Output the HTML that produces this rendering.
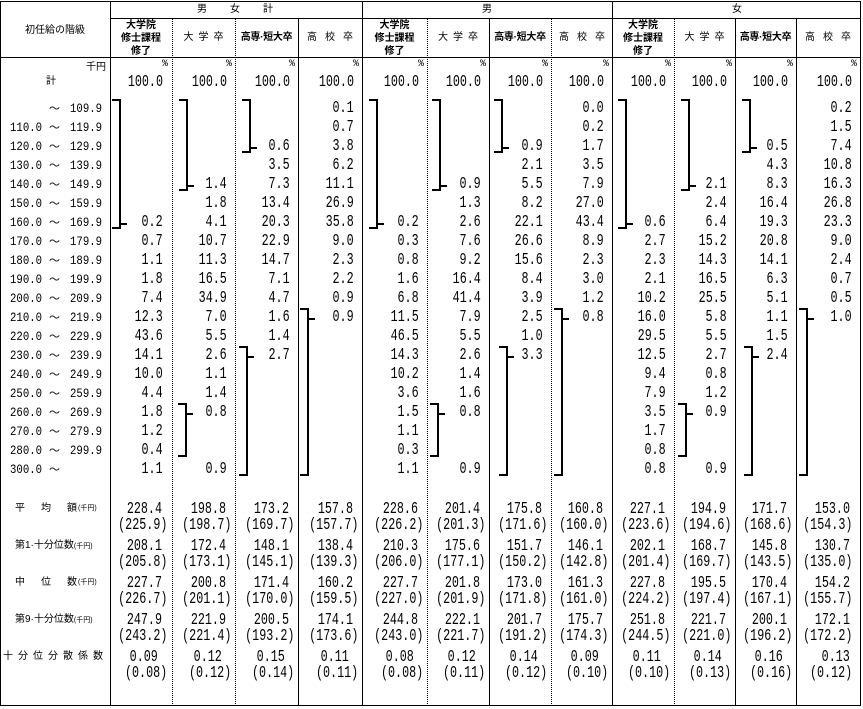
<!DOCTYPE html>
<html><head><meta charset="utf-8">
<style>
*{margin:0;padding:0}
html,body{width:863px;height:709px;background:#fff;overflow:hidden}
body{position:relative;color:#000}
svg{position:absolute;left:0;top:0}
.r{position:absolute;left:0;width:863px;height:19px}
.r b{position:absolute;top:0;font:17px/19px "Liberation Mono",monospace;font-weight:normal;transform:scaleX(.69);transform-origin:100% 50%;white-space:pre}
.c1{right:700px}.c2{right:636px}.c3{right:573px}.c4{right:509px}.c5{right:444px}.c6{right:382px}
.c7{right:320px}.c8{right:259px}.c9{right:197px}.c10{right:136px}.c11{right:75px}.c12{right:11px}
.pc b{font:10px/10px "Liberation Mono",monospace;transform:none;margin-right:-5px}
.s b{margin-right:1px}
.k b{margin-right:5px}
.p b{margin-right:-4px}
.p b.c12{margin-right:0}
.s b.c12{margin-right:2px}
.r i{position:absolute;top:0;font:13px/19px "Liberation Mono",monospace;font-style:normal;transform:scaleX(.82);transform-origin:100% 50%;white-space:pre}
.a{right:821px}.z{right:761px}
.r u{position:absolute;left:49px;top:0;font:11px/19px "Noto Sans CJK JP",sans-serif;text-decoration:none}
.j{position:absolute;font:10px/11px "Liberation Sans","Noto Sans CJK JP",sans-serif;white-space:nowrap}
.h3{text-align:center;line-height:13px;font-weight:bold}
.dc{text-align:center;letter-spacing:5px;padding-left:5px;box-sizing:border-box}
.kc{text-align:center;letter-spacing:8px;padding-left:8px;box-sizing:border-box}
.hs{text-align:center;font-weight:bold;letter-spacing:-0.3px}
.sm{font-size:7px}
</style></head><body>

<svg width="863" height="709" shape-rendering="crispEdges">
<g stroke="#000" stroke-width="1" fill="none">
<path d="M0 1.5H861M110 18.5H861M0 57.5H861M0 705.5H861M0.5 1V706M860.5 1V706M110.5 1V706M362.5 1V706M612.5 1V706M298.5 18V706M489.5 18V706M735.5 18V706M796.5 18V706"/>
<path stroke-dasharray="1 1" d="M172.5 19V706M235.5 19V706M427.5 19V706M551.5 19V706M674.5 19V706"/>
</g>
<g stroke="#000" stroke-width="2" fill="none">
<path d="M112 100H120V228H112M120 224H127"/>
<path d="M179 100H187V190H179M187 186H194"/>
<path d="M242 100H250V152H242M250 148H257"/>
<path d="M369 100H377V228H369M377 224H384"/>
<path d="M432 100H440V190H432M440 186H447"/>
<path d="M494 100H502V152H494M502 148H509"/>
<path d="M618 100H626V228H618M626 224H633"/>
<path d="M681 100H689V190H681M689 186H696"/>
<path d="M742 100H750V152H742M750 148H757"/>
<path d="M300 309H308V475H300M308 319H315"/>
<path d="M239 347H247V475H239M247 357H254"/>
<path d="M178 404H186V456H178M186 414H193"/>
<path d="M554 309H562V475H554M562 319H569"/>
<path d="M499 347H507V475H499M507 357H514"/>
<path d="M430 404H438V456H430M438 414H445"/>
<path d="M799 309H807V475H799M807 319H814"/>
<path d="M744 347H752V475H744M752 357H759"/>
<path d="M678 404H686V456H678M686 414H693"/>
</g>
</svg>

<!-- headers -->
<div class="j" style="left:0;width:110px;top:25px;text-align:center">初任給の階級</div>
<div class="j" style="left:197px;top:4px;letter-spacing:23px">男女計</div>
<div class="j" style="left:482px;top:4px">男</div>
<div class="j" style="left:732px;top:4px">女</div>

<div class="j h3" style="left:110px;width:62px;top:19px">大学院<br>修士課程<br>修了</div>
<div class="j dc" style="left:172px;width:63px;top:32px">大学卒</div>
<div class="j hs" style="left:235px;width:63px;top:32px">高専·短大卒</div>
<div class="j kc" style="left:298px;width:64px;top:32px">高校卒</div>

<div class="j h3" style="left:362px;width:65px;top:19px">大学院<br>修士課程<br>修了</div>
<div class="j dc" style="left:427px;width:62px;top:32px">大学卒</div>
<div class="j hs" style="left:489px;width:62px;top:32px">高専·短大卒</div>
<div class="j kc" style="left:551px;width:61px;top:32px">高校卒</div>

<div class="j h3" style="left:612px;width:62px;top:19px">大学院<br>修士課程<br>修了</div>
<div class="j dc" style="left:674px;width:61px;top:32px">大学卒</div>
<div class="j hs" style="left:735px;width:61px;top:32px">高専·短大卒</div>
<div class="j kc" style="left:796px;width:64px;top:32px">高校卒</div>

<div class="j" style="left:0;width:106px;top:62px;text-align:right">千円</div>
<div class="j" style="left:46px;top:76px">計</div>

<div class="r pc" style="top:60px"><b class="c1">%</b><b class="c2">%</b><b class="c3">%</b><b class="c4">%</b><b class="c5">%</b><b class="c6">%</b><b class="c7">%</b><b class="c8">%</b><b class="c9">%</b><b class="c10">%</b><b class="c11">%</b><b class="c12">%</b></div>

<div class="r" style="top:73px"><b class="c1">100.0</b><b class="c2">100.0</b><b class="c3">100.0</b><b class="c4">100.0</b><b class="c5">100.0</b><b class="c6">100.0</b><b class="c7">100.0</b><b class="c8">100.0</b><b class="c9">100.0</b><b class="c10">100.0</b><b class="c11">100.0</b><b class="c12">100.0</b></div>

<!-- data rows -->
<div class="r" style="top:99px"><u>〜</u><i class="z">109.9</i><b class="c4">0.1</b><b class="c8">0.0</b><b class="c12">0.2</b></div>
<div class="r" style="top:118px"><i class="a">110.0</i><u>〜</u><i class="z">119.9</i><b class="c4">0.7</b><b class="c8">0.2</b><b class="c12">1.5</b></div>
<div class="r" style="top:137px"><i class="a">120.0</i><u>〜</u><i class="z">129.9</i><b class="c3">0.6</b><b class="c4">3.8</b><b class="c7">0.9</b><b class="c8">1.7</b><b class="c11">0.5</b><b class="c12">7.4</b></div>
<div class="r" style="top:156px"><i class="a">130.0</i><u>〜</u><i class="z">139.9</i><b class="c3">3.5</b><b class="c4">6.2</b><b class="c7">2.1</b><b class="c8">3.5</b><b class="c11">4.3</b><b class="c12">10.8</b></div>
<div class="r" style="top:175px"><i class="a">140.0</i><u>〜</u><i class="z">149.9</i><b class="c2">1.4</b><b class="c3">7.3</b><b class="c4">11.1</b><b class="c6">0.9</b><b class="c7">5.5</b><b class="c8">7.9</b><b class="c10">2.1</b><b class="c11">8.3</b><b class="c12">16.3</b></div>
<div class="r" style="top:194px"><i class="a">150.0</i><u>〜</u><i class="z">159.9</i><b class="c2">1.8</b><b class="c3">13.4</b><b class="c4">26.9</b><b class="c6">1.3</b><b class="c7">8.2</b><b class="c8">27.0</b><b class="c10">2.4</b><b class="c11">16.4</b><b class="c12">26.8</b></div>
<div class="r" style="top:213px"><i class="a">160.0</i><u>〜</u><i class="z">169.9</i><b class="c1">0.2</b><b class="c2">4.1</b><b class="c3">20.3</b><b class="c4">35.8</b><b class="c5">0.2</b><b class="c6">2.6</b><b class="c7">22.1</b><b class="c8">43.4</b><b class="c9">0.6</b><b class="c10">6.4</b><b class="c11">19.3</b><b class="c12">23.3</b></div>
<div class="r" style="top:232px"><i class="a">170.0</i><u>〜</u><i class="z">179.9</i><b class="c1">0.7</b><b class="c2">10.7</b><b class="c3">22.9</b><b class="c4">9.0</b><b class="c5">0.3</b><b class="c6">7.6</b><b class="c7">26.6</b><b class="c8">8.9</b><b class="c9">2.7</b><b class="c10">15.2</b><b class="c11">20.8</b><b class="c12">9.0</b></div>
<div class="r" style="top:251px"><i class="a">180.0</i><u>〜</u><i class="z">189.9</i><b class="c1">1.1</b><b class="c2">11.3</b><b class="c3">14.7</b><b class="c4">2.3</b><b class="c5">0.8</b><b class="c6">9.2</b><b class="c7">15.6</b><b class="c8">2.3</b><b class="c9">2.3</b><b class="c10">14.3</b><b class="c11">14.1</b><b class="c12">2.4</b></div>
<div class="r" style="top:270px"><i class="a">190.0</i><u>〜</u><i class="z">199.9</i><b class="c1">1.8</b><b class="c2">16.5</b><b class="c3">7.1</b><b class="c4">2.2</b><b class="c5">1.6</b><b class="c6">16.4</b><b class="c7">8.4</b><b class="c8">3.0</b><b class="c9">2.1</b><b class="c10">16.5</b><b class="c11">6.3</b><b class="c12">0.7</b></div>
<div class="r" style="top:289px"><i class="a">200.0</i><u>〜</u><i class="z">209.9</i><b class="c1">7.4</b><b class="c2">34.9</b><b class="c3">4.7</b><b class="c4">0.9</b><b class="c5">6.8</b><b class="c6">41.4</b><b class="c7">3.9</b><b class="c8">1.2</b><b class="c9">10.2</b><b class="c10">25.5</b><b class="c11">5.1</b><b class="c12">0.5</b></div>
<div class="r" style="top:308px"><i class="a">210.0</i><u>〜</u><i class="z">219.9</i><b class="c1">12.3</b><b class="c2">7.0</b><b class="c3">1.6</b><b class="c4">0.9</b><b class="c5">11.5</b><b class="c6">7.9</b><b class="c7">2.5</b><b class="c8">0.8</b><b class="c9">16.0</b><b class="c10">5.8</b><b class="c11">1.1</b><b class="c12">1.0</b></div>
<div class="r" style="top:327px"><i class="a">220.0</i><u>〜</u><i class="z">229.9</i><b class="c1">43.6</b><b class="c2">5.5</b><b class="c3">1.4</b><b class="c5">46.5</b><b class="c6">5.5</b><b class="c7">1.0</b><b class="c9">29.5</b><b class="c10">5.5</b><b class="c11">1.5</b></div>
<div class="r" style="top:346px"><i class="a">230.0</i><u>〜</u><i class="z">239.9</i><b class="c1">14.1</b><b class="c2">2.6</b><b class="c3">2.7</b><b class="c5">14.3</b><b class="c6">2.6</b><b class="c7">3.3</b><b class="c9">12.5</b><b class="c10">2.7</b><b class="c11">2.4</b></div>
<div class="r" style="top:365px"><i class="a">240.0</i><u>〜</u><i class="z">249.9</i><b class="c1">10.0</b><b class="c2">1.1</b><b class="c5">10.2</b><b class="c6">1.4</b><b class="c9">9.4</b><b class="c10">0.8</b></div>
<div class="r" style="top:384px"><i class="a">250.0</i><u>〜</u><i class="z">259.9</i><b class="c1">4.4</b><b class="c2">1.4</b><b class="c5">3.6</b><b class="c6">1.6</b><b class="c9">7.9</b><b class="c10">1.2</b></div>
<div class="r" style="top:403px"><i class="a">260.0</i><u>〜</u><i class="z">269.9</i><b class="c1">1.8</b><b class="c2">0.8</b><b class="c5">1.5</b><b class="c6">0.8</b><b class="c9">3.5</b><b class="c10">0.9</b></div>
<div class="r" style="top:422px"><i class="a">270.0</i><u>〜</u><i class="z">279.9</i><b class="c1">1.2</b><b class="c5">1.1</b><b class="c9">1.7</b></div>
<div class="r" style="top:441px"><i class="a">280.0</i><u>〜</u><i class="z">299.9</i><b class="c1">0.4</b><b class="c5">0.3</b><b class="c9">0.8</b></div>
<div class="r" style="top:460px"><i class="a">300.0</i><u>〜</u><b class="c1">1.1</b><b class="c2">0.9</b><b class="c5">1.1</b><b class="c6">0.9</b><b class="c9">0.8</b><b class="c10">0.9</b></div>

<!-- stats labels -->
<div class="j" style="left:15px;top:503px;letter-spacing:16px">平均額</div><div class="j sm" style="left:78px;top:503px">(千円)</div>
<div class="j" style="left:15px;top:540px">第1·十分位数<span class="sm">(千円)</span></div>
<div class="j" style="left:15px;top:577px;letter-spacing:16px">中位数</div><div class="j sm" style="left:78px;top:577px">(千円)</div>
<div class="j" style="left:15px;top:614px">第9·十分位数<span class="sm">(千円)</span></div>
<div class="j" style="left:3px;top:651px;letter-spacing:5px">十分位分散係数</div>

<!-- stats values -->
<div class="r s" style="top:500px"><b class="c1">228.4</b><b class="c2">198.8</b><b class="c3">173.2</b><b class="c4">157.8</b><b class="c5">228.6</b><b class="c6">201.4</b><b class="c7">175.8</b><b class="c8">160.8</b><b class="c9">227.1</b><b class="c10">194.9</b><b class="c11">171.7</b><b class="c12">153.0</b></div>
<div class="r p" style="top:516px"><b class="c1">(225.9)</b><b class="c2">(198.7)</b><b class="c3">(169.7)</b><b class="c4">(157.7)</b><b class="c5">(226.2)</b><b class="c6">(201.3)</b><b class="c7">(171.6)</b><b class="c8">(160.0)</b><b class="c9">(223.6)</b><b class="c10">(194.6)</b><b class="c11">(168.6)</b><b class="c12">(154.3)</b></div>

<div class="r s" style="top:537px"><b class="c1">208.1</b><b class="c2">172.4</b><b class="c3">148.1</b><b class="c4">138.4</b><b class="c5">210.3</b><b class="c6">175.6</b><b class="c7">151.7</b><b class="c8">146.1</b><b class="c9">202.1</b><b class="c10">168.7</b><b class="c11">145.8</b><b class="c12">130.7</b></div>
<div class="r p" style="top:553px"><b class="c1">(205.8)</b><b class="c2">(173.1)</b><b class="c3">(145.1)</b><b class="c4">(139.3)</b><b class="c5">(206.0)</b><b class="c6">(177.1)</b><b class="c7">(150.2)</b><b class="c8">(142.8)</b><b class="c9">(201.4)</b><b class="c10">(169.7)</b><b class="c11">(143.5)</b><b class="c12">(135.0)</b></div>

<div class="r s" style="top:574px"><b class="c1">227.7</b><b class="c2">200.8</b><b class="c3">171.4</b><b class="c4">160.2</b><b class="c5">227.7</b><b class="c6">201.8</b><b class="c7">173.0</b><b class="c8">161.3</b><b class="c9">227.8</b><b class="c10">195.5</b><b class="c11">170.4</b><b class="c12">154.2</b></div>
<div class="r p" style="top:590px"><b class="c1">(226.7)</b><b class="c2">(201.1)</b><b class="c3">(170.0)</b><b class="c4">(159.5)</b><b class="c5">(227.0)</b><b class="c6">(201.9)</b><b class="c7">(171.8)</b><b class="c8">(161.0)</b><b class="c9">(224.2)</b><b class="c10">(197.4)</b><b class="c11">(167.1)</b><b class="c12">(155.7)</b></div>

<div class="r s" style="top:611px"><b class="c1">247.9</b><b class="c2">221.9</b><b class="c3">200.5</b><b class="c4">174.1</b><b class="c5">244.8</b><b class="c6">222.1</b><b class="c7">201.7</b><b class="c8">175.7</b><b class="c9">251.8</b><b class="c10">221.7</b><b class="c11">200.1</b><b class="c12">172.1</b></div>
<div class="r p" style="top:627px"><b class="c1">(243.2)</b><b class="c2">(221.4)</b><b class="c3">(193.2)</b><b class="c4">(173.6)</b><b class="c5">(243.0)</b><b class="c6">(221.7)</b><b class="c7">(191.2)</b><b class="c8">(174.3)</b><b class="c9">(244.5)</b><b class="c10">(221.0)</b><b class="c11">(196.2)</b><b class="c12">(172.2)</b></div>

<div class="r s k" style="top:648px"><b class="c1">0.09</b><b class="c2">0.12</b><b class="c3">0.15</b><b class="c4">0.11</b><b class="c5">0.08</b><b class="c6">0.12</b><b class="c7">0.14</b><b class="c8">0.09</b><b class="c9">0.11</b><b class="c10">0.14</b><b class="c11">0.16</b><b class="c12">0.13</b></div>
<div class="r p" style="top:664px"><b class="c1">(0.08)</b><b class="c2">(0.12)</b><b class="c3">(0.14)</b><b class="c4">(0.11)</b><b class="c5">(0.08)</b><b class="c6">(0.11)</b><b class="c7">(0.12)</b><b class="c8">(0.10)</b><b class="c9">(0.10)</b><b class="c10">(0.13)</b><b class="c11">(0.16)</b><b class="c12">(0.12)</b></div>

</body></html>
